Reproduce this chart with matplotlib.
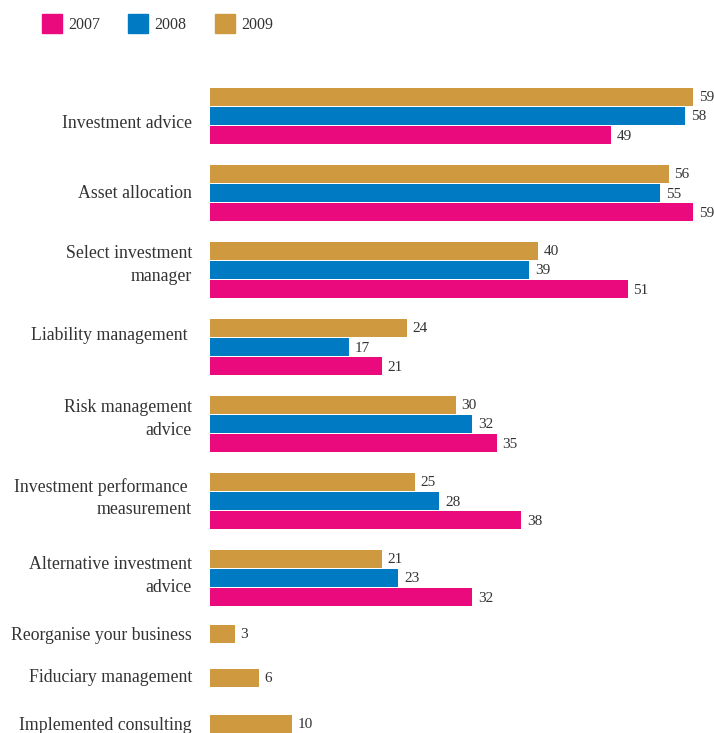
import matplotlib.pyplot as plt
from matplotlib.patches import Patch

categories = ['Investment advice', 'Asset allocation', 'Select investment\nmanager',
              'Liability management ', 'Risk management\nadvice',
              'Investment performance \nmeasurement', 'Alternative investment\nadvice',
              'Reorganise your business', 'Fiduciary management', 'Implemented consulting']
values_2007 = [49, 59, 51, 21, 35, 38, 32]
values_2008 = [58, 55, 39, 17, 32, 28, 23]
values_2009 = [59, 56, 40, 24, 30, 25, 21, 3, 6, 10]

c2007 = '#EB0A7E'
c2008 = '#007AC3'
c2009 = '#CF9A3F'
text_color = '#333333'

plt.rcParams['font.family'] = ['Liberation Serif', 'DejaVu Serif']

W, H = 714, 733
fig = plt.figure(figsize=(W / 100, H / 100), dpi=100)
# axes spans the bar area; y in pixel-like units from the top
ax = fig.add_axes([210 / W, 0, (W - 210) / W, 1])
ax.set_ylim(H, 0)
ax.set_xlim(0, (W - 210) / 8.19)

# layout: group centres, then single-bar rows
centers = [116 + 77 * i for i in range(len(values_2007))] + [634, 678, 724]
label_y = [124, 194, 265, 336, 419, 498, 576, 635, 678, 726]
step = 19.2
bar_h = 17.5


def draw(ys, vals, color):
    ax.barh(ys, vals, height=bar_h, color=color)
    for y, v in zip(ys, vals):
        ax.text(v + 0.7, y + 1, str(v), va='center', ha='left', fontsize=11, color=text_color)


n = len(values_2007)
draw([c - step for c in centers[:n]], values_2009[:n], c2009)
draw(centers[:n], values_2008, c2008)
draw([c + step for c in centers[:n]], values_2007, c2007)
draw(centers[n:], values_2009[n:], c2009)

for y, lab in zip(label_y, categories):
    ax.text(-2.2, y, lab, ha='right', va='center', fontsize=12.8, color=text_color,
            linespacing=1.42)

ax.set_xticks([])
ax.set_yticks([])
for s in ax.spines.values():
    s.set_visible(False)

handles = [Patch(color=c2007, label='2007'), Patch(color=c2008, label='2008'),
           Patch(color=c2009, label='2009')]
fig.legend(handles=handles, loc='upper left', bbox_to_anchor=(34 / W, 1 - 6 / H), ncol=3,
           frameon=False, fontsize=11.5, handlelength=1.25, handleheight=1.5,
           handletextpad=0.4, columnspacing=1.75, borderpad=0, labelcolor=text_color)

fig.savefig('out.png', dpi=100)
